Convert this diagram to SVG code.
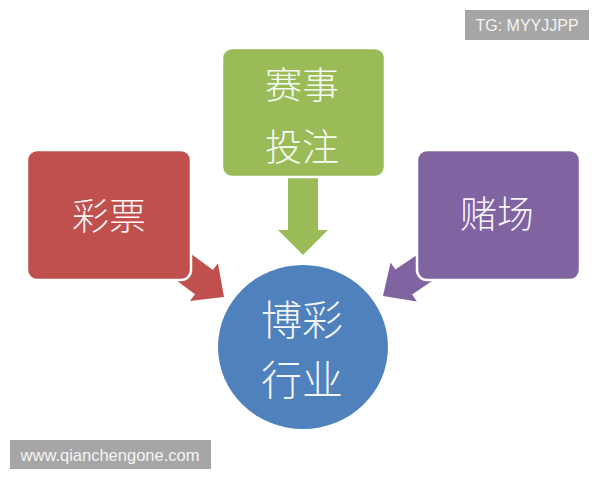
<svg xmlns="http://www.w3.org/2000/svg" width="600" height="480" viewBox="0 0 600 480">
  <defs>
    <style>
      .box { stroke: #ffffff; stroke-width: 2.5; }
      .cjk { font-family: "Noto Sans CJK SC", sans-serif; font-weight: 300; fill: #ffffff; fill-opacity: 0.95; text-anchor: middle; dominant-baseline: central; }
      .wm { fill: #a6a6a6; }
      .wmt { font-family: "Liberation Sans", Arial, sans-serif; fill: #f4f4f4; text-anchor: middle; dominant-baseline: central; }
    </style>
    <polygon id="arr" points="0,0 -25,-23.5 -25,-15 -70,-15 -70,15 -25,15 -25,23.5"/>
  </defs>
  <rect width="600" height="480" fill="#ffffff"/>

  <g id="connectors">
    <use href="#arr" fill="#c0504d" transform="translate(224,297) rotate(36.6)"/>
    <use href="#arr" fill="#8064a2" transform="translate(383,296) rotate(146)"/>
    <polygon fill="#9bbb59" points="288,176 318,176 318,230 328,230 303,255 278,230 288,230"/>
  </g>

  <g id="lottery">
    <rect class="box" x="27" y="150" width="164" height="130" rx="10" fill="#c0504d"/>
    <text class="cjk" x="109" y="214" font-size="37">彩票</text>
  </g>

  <g id="sports">
    <rect class="box" x="222" y="48" width="163" height="129" rx="10" fill="#9bbb59"/>
    <text class="cjk" x="302" y="83" font-size="37">赛事</text>
    <text class="cjk" x="302" y="145" font-size="37">投注</text>
  </g>

  <g id="casino">
    <rect class="box" x="417" y="150" width="163" height="130" rx="10" fill="#8064a2"/>
    <text class="cjk" x="497" y="212" font-size="37">赌场</text>
  </g>

  <g id="industry">
    <ellipse cx="303" cy="347" rx="85" ry="82" fill="#4f81bd"/>
    <text class="cjk" x="302" y="317" font-size="41">博彩</text>
    <text class="cjk" x="302" y="377" font-size="41">行业</text>
  </g>

  <g id="watermark-tg">
    <rect class="wm" x="465" y="10" width="124" height="30"/>
    <text class="wmt" x="527" y="25" font-size="16">TG: MYYJJPP</text>
  </g>
  <g id="watermark-site">
    <rect class="wm" x="10" y="440" width="201" height="29"/>
    <text class="wmt" x="110" y="455" font-size="16.5">www.qianchengone.com</text>
  </g>
</svg>
